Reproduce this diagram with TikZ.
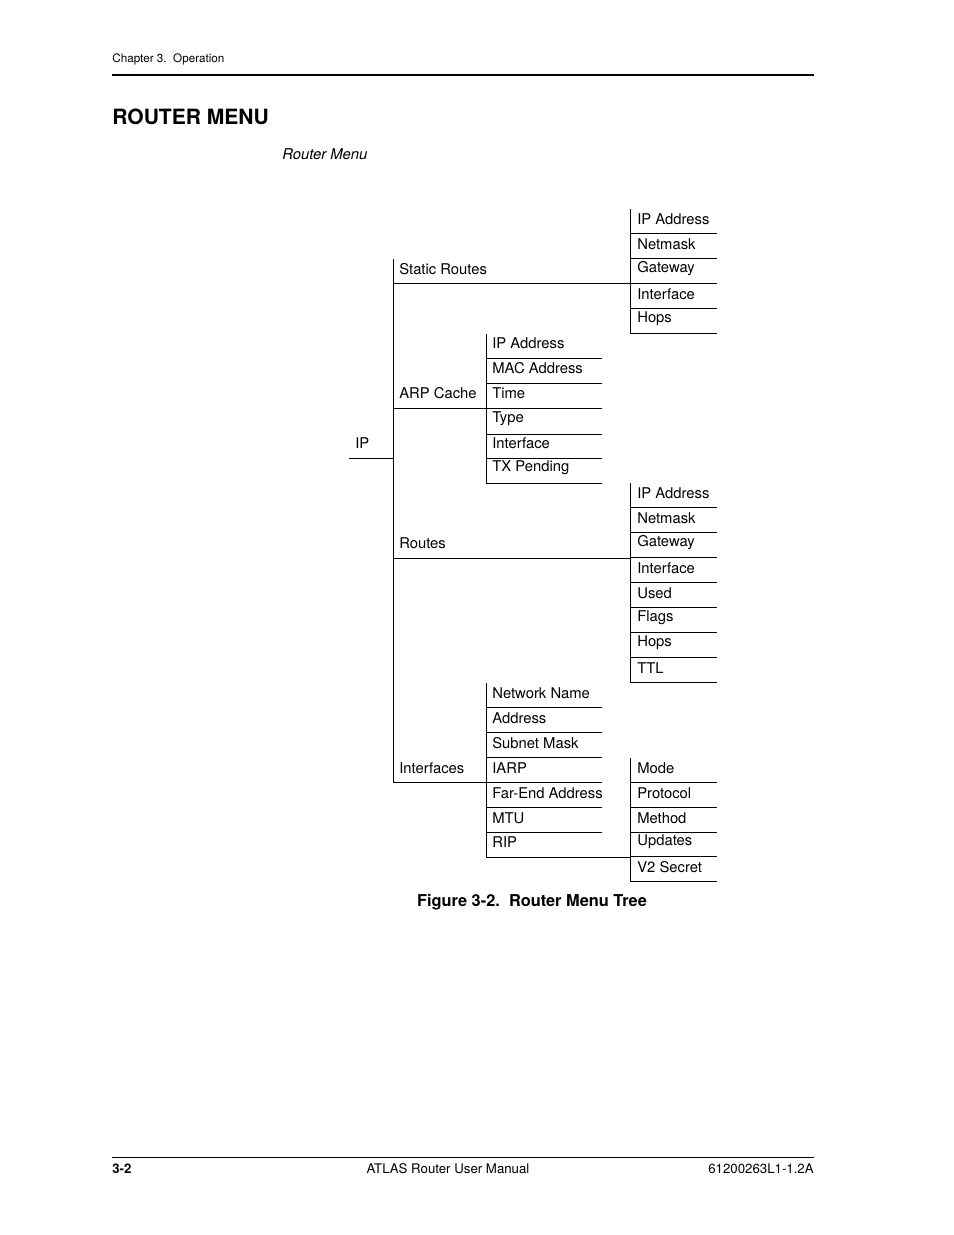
\documentclass[tikz,border=0pt]{standalone}
\usepackage{fontspec}
\setmainfont{TeX Gyre Heros}
\begin{document}
\begin{tikzpicture}[x=0.6415pt,y=-0.6415pt,
  lbl/.style={anchor=west,inner sep=0pt,font=\fontsize{9.5}{11}\selectfont},
  ln/.style={line width=0.6pt}]
\useasboundingbox (0,0) rectangle (954,1235);
% header/footer
\node[lbl,font=\fontsize{7.5}{9}\selectfont] (hd) at (112,59) {Chapter 3.\ \ Operation};
\draw[line width=1.3pt] (112,75) -- (814,75);
\node[lbl,font=\fontsize{13.5}{15}\selectfont\bfseries] (ttl) at (112,117) {ROUTER MENU};
\node[lbl,font=\fontsize{9.5}{11}\selectfont\itshape] (rm) at (282,154) {Router Menu};
\node[inner sep=0pt,font=\fontsize{10.5}{12}\selectfont\bfseries] (cap) at (532,902) {Figure 3-2.\ \ Router Menu Tree};
\draw[line width=0.5pt] (112,1157) -- (814,1157);
\node[lbl,font=\fontsize{8.5}{10}\selectfont\bfseries] (pg) at (112,1169) {3-2};
\node[inner sep=0pt,font=\fontsize{8.5}{10}\selectfont] (mn) at (448,1169) {ATLAS Router User Manual};
\node[inner sep=0pt,anchor=east,font=\fontsize{8.5}{10}\selectfont] (doc) at (814,1169) {61200263L1-1.2A};
% root
\node[lbl] (ip) at (355,443) {IP};
\draw[ln] (349,458) -- (393,458);
\draw[ln] (393,259) -- (393,782);
% level 1
\node[lbl] (sr) at (399,269) {Static Routes};
\draw[ln] (393,283) -- (630,283);
\node[lbl] (arp) at (399,393) {ARP Cache};
\draw[ln] (393,408) -- (486,408);
\node[lbl] (rt) at (399,543) {Routes};
\draw[ln] (393,558) -- (630,558);
\node[lbl] (if) at (399,768) {Interfaces};
\draw[ln] (393,782) -- (486,782);
% static routes children
\draw[ln] (630,209) -- (630,333);
\foreach \t/\y [count=\i] in {IP Address/219,Netmask/244,Gateway/269,Interface/294,Hops/319}{
  \node[lbl] (sr\i) at (637,\y) {\t};
  \draw[ln] (630,\y+14) -- (717,\y+14);}
% arp children
\draw[ln] (486,334) -- (486,484);
\foreach \t/\y [count=\i] in {IP Address/343,MAC Address/368,Time/393,Type/419,Interface/443,TX Pending/468}{
  \node[lbl] (arp\i) at (492,\y) {\t};
  \draw[ln] (486,\y+15) -- (602,\y+15);}
% routes children
\draw[ln] (630,483) -- (630,682);
\foreach \t/\y [count=\i] in {IP Address/493,Netmask/518,Gateway/543,Interface/568,Used/593,Flags/618,Hops/643,TTL/668}{
  \node[lbl] (rt\i) at (637,\y) {\t};
  \draw[ln] (630,\y+14.5) -- (717,\y+14.5);}
% interfaces children
\draw[ln] (486,683) -- (486,857);
\foreach \t/\y [count=\i] in {Network Name/693,Address/718,Subnet Mask/743,IARP/768,Far-End Address/793,MTU/818}{
  \node[lbl] (if\i) at (492,\y) {\t};
  \draw[ln] (486,\y+14.5) -- (602,\y+14.5);}
\node[lbl] (if7) at (492,842) {RIP};
\draw[ln] (486,857) -- (630,857);
% RIP children
\draw[ln] (630,758) -- (630,882);
\foreach \t/\y [count=\i] in {Mode/768,Protocol/793,Method/818,Updates/842,V2 Secret/867}{
  \node[lbl] (rip\i) at (637,\y) {\t};
  \draw[ln] (630,\y+14.5) -- (717,\y+14.5);}
\end{tikzpicture}
\end{document}
